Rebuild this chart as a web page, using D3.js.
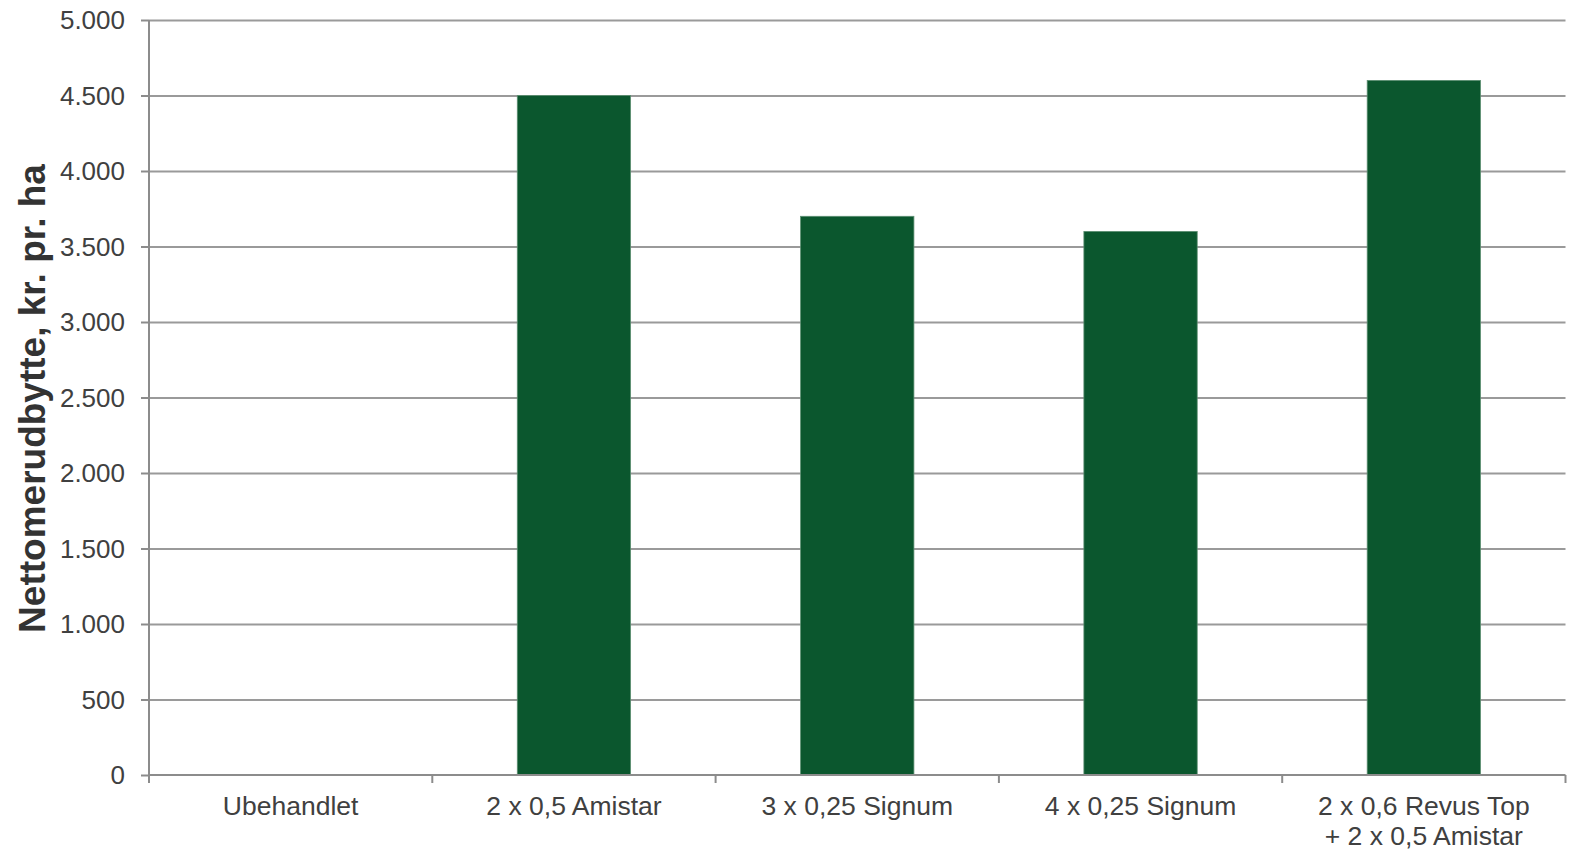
<!DOCTYPE html>
<html><head><meta charset="utf-8">
<script src="https://cdn.jsdelivr.net/npm/d3@7"></script>
<style>body{margin:0;background:#fff;}svg{display:block;}</style>
</head><body>
<svg id="c" width="1570" height="851"></svg>
<script>
const categories = ["Ubehandlet", "2 x 0,5 Amistar", "3 x 0,25 Signum", "4 x 0,25 Signum", "2 x 0,6 Revus Top\n+ 2 x 0,5 Amistar"];
const values = [0, 4500, 3700, 3600, 4600];
const yTicks = [0, 500, 1000, 1500, 2000, 2500, 3000, 3500, 4000, 4500, 5000];
const yTitle = "Nettomerudbytte, kr. pr. ha";

const svg = d3.select("#c");
const m = {l: 149, r: 1565.5, t: 20, b: 775};
const fmt = v => d3.format(",")(v).replace(/,/g, ".");
const x = d3.scaleBand().domain(categories).range([m.l, m.r]).paddingInner(0.6).paddingOuter(0.3);
const y = d3.scaleLinear().domain([0, 5000]).range([m.b, m.t]);
const font = "'Liberation Sans', Arial, sans-serif";
const txt = "#404040", axisC = "#8c8c8c", gridC = "#9a9a9a";

// gridlines
svg.append("g").selectAll("line").data(yTicks.filter(d => d > 0)).join("line")
  .attr("x1", m.l).attr("x2", m.r).attr("y1", d => y(d) + 0.5).attr("y2", d => y(d) + 0.5)
  .attr("stroke", gridC).attr("stroke-width", 2);

// bars
svg.append("g").selectAll("rect").data(values.map((v, i) => ({c: categories[i], v}))).join("rect")
  .attr("x", d => x(d.c)).attr("width", x.bandwidth())
  .attr("y", d => y(d.v)).attr("height", d => y(0) - y(d.v))
  .attr("fill", "#0b572e").attr("stroke", d => d.v > 0 ? "#5d8f72" : "none").attr("stroke-width", 0.8);

// y axis
const ya = svg.append("g").attr("transform", `translate(${m.l},0)`)
  .call(d3.axisLeft(y).tickValues(yTicks).tickFormat(fmt).tickSize(8).tickPadding(16));
ya.select(".domain").attr("stroke", axisC).attr("stroke-width", 2).attr("d", `M0,${m.t}V${m.b}`);
ya.selectAll(".tick line").attr("stroke", axisC).attr("stroke-width", 2);
ya.selectAll(".tick text").attr("fill", txt).style("font", `26px ${font}`).attr("dy", "0.34em");

// x axis
const xa = svg.append("g").attr("transform", `translate(0,${m.b})`);
xa.append("line").attr("x1", m.l).attr("x2", m.r).attr("y1", 0).attr("y2", 0).attr("stroke", axisC).attr("stroke-width", 2);
const bounds = d3.range(categories.length + 1).map(i => m.l + i * (m.r - m.l) / categories.length);
xa.selectAll("line.t").data(bounds).join("line").attr("class", "t")
  .attr("x1", d => d).attr("x2", d => d).attr("y1", 0).attr("y2", 8)
  .attr("stroke", axisC).attr("stroke-width", 2);
xa.selectAll("text.c").data(categories).join("text").attr("class", "c")
  .attr("x", d => x(d) + x.bandwidth() / 2).attr("y", 40)
  .attr("text-anchor", "middle").attr("fill", txt).style("font", `26.5px ${font}`)
  .each(function(d) {
    const lines = d.split("\n");
    d3.select(this).selectAll("tspan").data(lines).join("tspan")
      .attr("x", x(d) + x.bandwidth() / 2).attr("dy", (l, i) => i === 0 ? 0 : 30).text(l => l);
  });

// y title
svg.append("text").attr("transform", `translate(45,${(m.t + m.b) / 2 + 1}) rotate(-90)`)
  .attr("text-anchor", "middle").attr("fill", "#333").style("font", `bold 37px ${font}`).text(yTitle);
</script>
</body></html>
